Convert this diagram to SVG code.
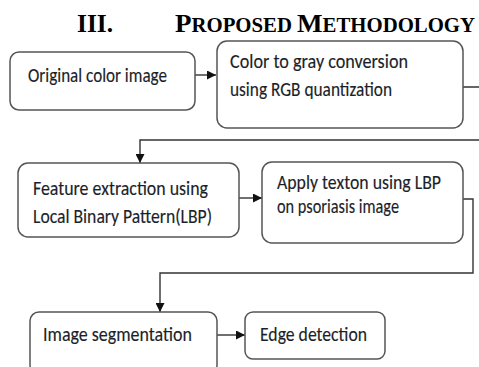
<svg xmlns="http://www.w3.org/2000/svg" width="479" height="367" viewBox="0 0 479 367">
<defs>
<marker id="ah" viewBox="0 0 10 10" refX="10" refY="5" markerWidth="9" markerHeight="9" markerUnits="userSpaceOnUse" orient="auto">
<path d="M0,0 L10,5 L0,10 z" fill="#111"/>
</marker>
<style>
.box{fill:#fff;stroke:#555;stroke-width:1.5}
.t{font-family:"Carlito","Liberation Sans Narrow","Open Sans","Noto Sans",sans-serif;font-size:16.5px;fill:#1c1f2a;stroke:#1c1f2a;stroke-width:0.12}
.c{fill:none;stroke:#333;stroke-width:1.4}
.ti{font-family:"Liberation Serif","Times New Roman",serif;font-weight:bold;fill:#000}
</style>
</defs>
<rect width="479" height="367" fill="#fff"/>
<g id="title">
<text class="ti" x="77" y="32" font-size="26" textLength="36" lengthAdjust="spacingAndGlyphs">III.</text>
<text class="ti" x="175" y="32" font-size="26" textLength="300" lengthAdjust="spacingAndGlyphs">P<tspan font-size="20">ROPOSED </tspan>M<tspan font-size="20">ETHODOLOGY</tspan></text>
</g>
<g id="connectors">
<line class="c" x1="195" y1="75" x2="216" y2="75" marker-end="url(#ah)"/>
<polyline class="c" points="463,87 481,87 481,140 140,140 140,163" marker-end="url(#ah)"/>
<line class="c" x1="239" y1="198" x2="262" y2="198" marker-end="url(#ah)"/>
<polyline class="c" points="463,199 473,199 473,273 160,273 160,312" marker-end="url(#ah)"/>
<line class="c" x1="217" y1="335" x2="245" y2="335" marker-end="url(#ah)"/>
</g>
<g id="n1">
<rect class="box" x="10" y="52" width="185" height="58" rx="9"/>
<text class="t" transform="translate(28,82) scale(1,1.22)" textLength="139" lengthAdjust="spacingAndGlyphs">Original color image</text>
</g>
<g id="n2">
<rect class="box" x="217" y="41" width="246" height="87" rx="10"/>
<text class="t" transform="translate(230,68) scale(1,1.22)" textLength="178" lengthAdjust="spacingAndGlyphs">Color to gray conversion</text>
<text class="t" transform="translate(230,96) scale(1,1.22)" textLength="162" lengthAdjust="spacingAndGlyphs">using RGB quantization</text>
</g>
<g id="n3">
<rect class="box" x="18" y="163" width="221" height="74" rx="10"/>
<text class="t" transform="translate(33,195) scale(1,1.22)" textLength="175" lengthAdjust="spacingAndGlyphs">Feature extraction using</text>
<text class="t" transform="translate(33,223) scale(1,1.22)" textLength="179" lengthAdjust="spacingAndGlyphs">Local Binary Pattern(LBP)</text>
</g>
<g id="n4">
<rect class="box" x="262" y="162" width="201" height="81" rx="10"/>
<text class="t" transform="translate(277,189) scale(1,1.22)" textLength="164" lengthAdjust="spacingAndGlyphs">Apply texton using LBP</text>
<text class="t" transform="translate(277,213) scale(1,1.22)" textLength="122" lengthAdjust="spacingAndGlyphs">on psoriasis image</text>
</g>
<g id="n5">
<rect class="box" x="30" y="312" width="187" height="62" rx="9"/>
<text class="t" transform="translate(43,341) scale(1,1.22)" textLength="149" lengthAdjust="spacingAndGlyphs">Image segmentation</text>
</g>
<g id="n6">
<rect class="box" x="245" y="312" width="140" height="47" rx="8"/>
<text class="t" transform="translate(260,341) scale(1,1.22)" textLength="107" lengthAdjust="spacingAndGlyphs">Edge detection</text>
</g>
</svg>
